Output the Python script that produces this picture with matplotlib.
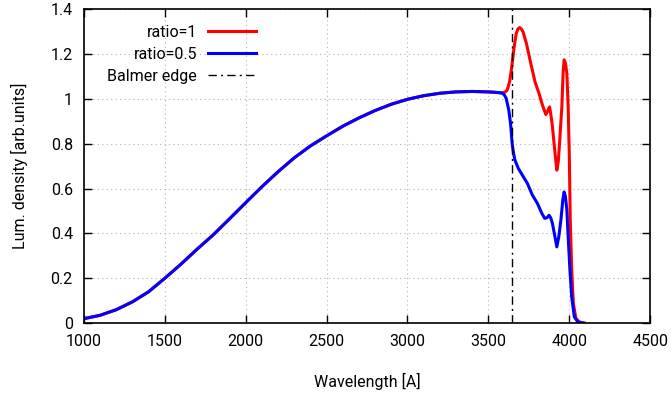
import matplotlib
matplotlib.use('Agg')
from matplotlib import pyplot as plt

plt.rcParams['font.family'] = ['Roboto', 'DejaVu Sans']

# Shared continuum (both ratios coincide below the Balmer edge)
wl_common = [1000, 1100, 1200, 1300, 1400, 1500, 1600, 1700, 1800, 1900,
             2000, 2100, 2200, 2300, 2400, 2500, 2600, 2700, 2800, 2900,
             3000, 3100, 3200, 3300, 3400, 3500, 3545, 3585]
lum_common = [0.02, 0.035, 0.060, 0.095, 0.14, 0.20, 0.263, 0.33, 0.394, 0.465,
              0.537, 0.608, 0.675, 0.737, 0.79, 0.835, 0.878, 0.915, 0.948, 0.976,
              0.998, 1.014, 1.025, 1.031, 1.033, 1.031, 1.029, 1.026]

# ratio = 1, beyond the split
wl_r1 = [3600, 3616, 3631, 3643, 3658, 3672, 3683, 3693, 3703, 3714,
         3735, 3762, 3788, 3813, 3834, 3855, 3866, 3878, 3886, 3896,
         3912, 3923, 3932, 3941, 3954, 3962, 3968, 3976, 3985, 3993,
         4000, 4006, 4015, 4025, 4041, 4068, 4093]
lum_r1 = [1.029, 1.039, 1.076, 1.135, 1.225, 1.292, 1.312, 1.318, 1.312, 1.299,
          1.247, 1.158, 1.076, 1.024, 0.972, 0.93, 0.945, 0.964, 0.93, 0.875,
          0.756, 0.682, 0.72, 0.816, 0.964, 1.12, 1.174, 1.16, 1.113, 0.964,
          0.75, 0.459, 0.236, 0.088, 0.021, 0.001, 0.0]

# ratio = 0.5, beyond the split
wl_r05 = [3598, 3610, 3626, 3637, 3647, 3656, 3664, 3685, 3710, 3741,
          3772, 3803, 3830, 3848, 3862, 3875, 3885, 3896, 3910, 3923,
          3935, 3948, 3960, 3968, 3976, 3985, 3993, 4004, 4015, 4031,
          4052, 4093]
lum_r05 = [1.018, 1.002, 0.95, 0.89, 0.80, 0.755, 0.727, 0.69, 0.66, 0.623,
           0.571, 0.534, 0.49, 0.467, 0.47, 0.481, 0.47, 0.444, 0.39, 0.34,
           0.385, 0.459, 0.55, 0.585, 0.565, 0.504, 0.385, 0.236, 0.117, 0.028,
           0.006, 0.0]

balmer_edge = 3646

fig = plt.figure(figsize=(6.71, 3.97), dpi=100)
ax = fig.add_axes([0.125, 0.186, 0.844, 0.791])

ax.plot(wl_common + wl_r1, lum_common + lum_r1, color='red', lw=2.2, label='ratio=1')
ax.plot(wl_common + wl_r05, lum_common + lum_r05, color='blue', lw=2.2, label='ratio=0.5')
ax.axvline(balmer_edge, color='black', lw=1, ls=(0, (6, 3, 1.5, 3)), label='Balmer edge')

ax.set_xlim(1000, 4500)
ax.set_ylim(0, 1.4)
ax.set_xticks(range(1000, 4501, 500))
ax.set_yticks([0, 0.2, 0.4, 0.6, 0.8, 1, 1.2, 1.4])
ax.set_yticklabels(['0', '0.2', '0.4', '0.6', '0.8', '1', '1.2', '1.4'])
ax.grid(True, color='0.7', ls=(0, (1, 3)), lw=0.8)
ax.tick_params(direction='in', top=True, right=True, length=6, width=1,
               labelsize=11.5, pad=8)
for s in ax.spines.values():
    s.set_linewidth(1.2)

ax.set_xlabel('Wavelength [A]', fontsize=11.5, labelpad=17)
ax.set_ylabel('Lum. density [arb.units]', fontsize=11.5, labelpad=16)

ax.legend(loc='upper left', bbox_to_anchor=(0.03, 0.971), frameon=False,
          markerfirst=False, fontsize=11.5, handlelength=3.0,
          handletextpad=0.7, labelspacing=0.45, borderaxespad=0)

fig.savefig('out.png', dpi=100)
